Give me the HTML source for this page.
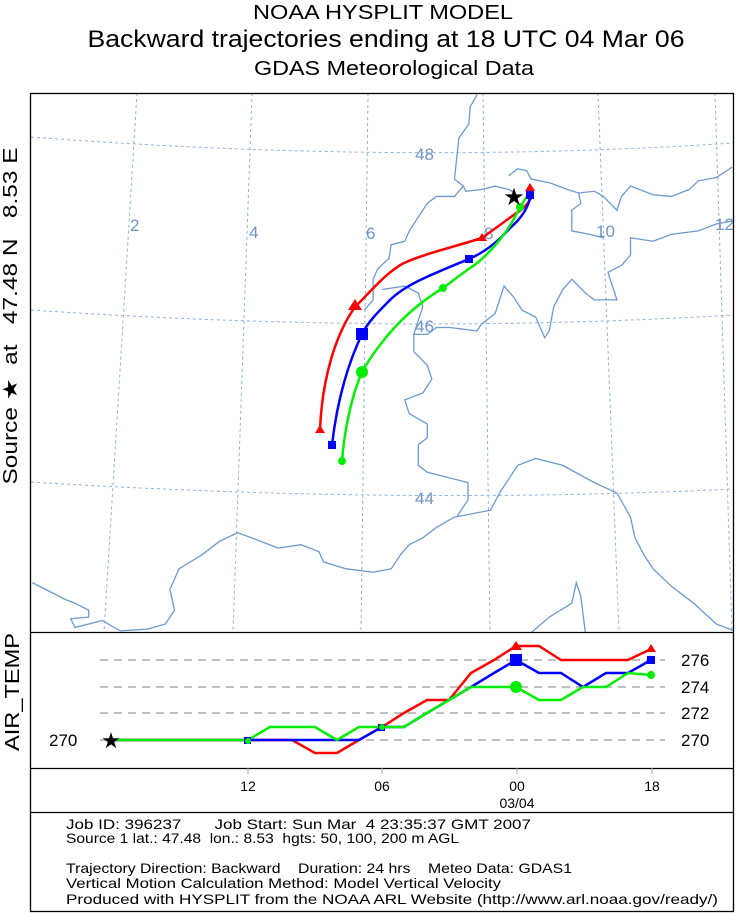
<!DOCTYPE html>
<html><head><meta charset="utf-8"><style>
html,body{margin:0;padding:0;background:#fff;}
svg{display:block;font-family:"Liberation Sans",sans-serif;}
text{white-space:pre;}
</style></head><body>
<svg width="736" height="913" viewBox="0 0 736 913" xmlns="http://www.w3.org/2000/svg" xml:space="preserve">
<rect width="736" height="913" fill="#fff"/>
<text x="383" y="19" font-size="20" text-anchor="middle" textLength="260" lengthAdjust="spacingAndGlyphs">NOAA HYSPLIT MODEL</text>
<text x="386" y="47" font-size="24" text-anchor="middle" textLength="597" lengthAdjust="spacingAndGlyphs">Backward trajectories ending at 18 UTC 04 Mar 06</text>
<text x="394" y="75" font-size="20" text-anchor="middle" textLength="280" lengthAdjust="spacingAndGlyphs">GDAS Meteorological Data</text>

<g fill="none" stroke="#8fb3d9" stroke-width="1" stroke-dasharray="3,3">
<path d="M137,93 L104,632"/><path d="M252,93 L233,632"/><path d="M368,93 L361,632"/>
<path d="M483,93 L490,632"/><path d="M598,93 L619,632"/><path d="M715,93 L732,632"/>
<path d="M31,137 Q400,165 733,143"/><path d="M31,310 Q400,335 733,315"/><path d="M31,482 Q400,505 733,489"/>
</g>
<g font-size="17" fill="#6d94c4">
<text x="130" y="231">2</text><text x="249" y="238">4</text><text x="366" y="239">6</text>
<text x="484" y="239">8</text><text x="596" y="237">10</text><text x="715" y="230">12</text>
<text x="415" y="160">48</text><text x="415" y="332">46</text><text x="415" y="504">44</text>
</g>
<g transform="translate(30,93) scale(0.4515,0.3448)" fill="none" stroke="#6d9ad0" stroke-width="1.3">
<polyline vector-effect="non-scaling-stroke" points="990,5 975,40 972,90 950,130 940,250 960,270 965,285 1000,280 1030,270 1060,280 1075,290"/>
<polyline vector-effect="non-scaling-stroke" points="1060,240 1080,220 1100,225 1110,250 1150,260 1190,280 1215,290 1250,285 1270,300 1300,340 1310,300 1330,270 1380,295 1420,300 1460,280 1480,255 1520,245 1555,215"/>
<polyline vector-effect="non-scaling-stroke" points="960,270 940,300 900,300 880,320 870,340 840,400 830,430 800,440 795,480 770,510 760,540 760,600 740,630"/>
<polyline vector-effect="non-scaling-stroke" points="780,570 830,560 860,580 870,620 850,700 880,700 900,680 930,680 990,690 1000,670 1030,640 1050,560 1070,590 1090,630 1120,650 1140,710 1150,690 1160,620 1180,570 1200,540 1230,580 1250,600 1300,600 1290,560 1280,520 1310,500 1330,470 1330,420 1380,430 1420,410 1480,400 1520,380 1560,370"/>
<polyline vector-effect="non-scaling-stroke" points="1215,290 1220,320 1200,340 1200,400 1240,410 1270,420"/>
<polyline vector-effect="non-scaling-stroke" points="850,700 850,750 880,790 890,830 870,870 830,890 840,930 880,960 880,1000 860,1020 860,1080 880,1100 940,1120 970,1130 970,1180 945,1230"/>
<polyline vector-effect="non-scaling-stroke" points="5,1420 80,1470 100,1480 130,1500 130,1520 90,1525 100,1550 160,1530 200,1560 260,1555 300,1540 320,1500 310,1440 330,1380 380,1340 420,1300 460,1275 500,1295 550,1320 600,1310 640,1330 650,1360 700,1380 760,1390 800,1380 820,1340 840,1310 870,1290 900,1260 940,1230 1020,1210 1040,1160 1080,1080 1120,1060 1180,1080 1250,1130 1300,1160 1330,1230 1340,1290 1360,1340 1380,1380 1420,1430 1470,1480 1520,1540 1560,1560"/>
<polyline vector-effect="non-scaling-stroke" points="1110,1565 1150,1520 1200,1480 1210,1420 1220,1460 1230,1565"/>
</g>
<g fill="none" stroke-width="2.5">
<path stroke="#ff0000" d="M530,187 C536,193 530,205 515,214 L482,238 C450,248 420,255 402,264 C385,274 372,290 355,307 C335,335 322,380 320,430"/>
<path stroke="#0000ff" d="M530,195 C530,205 522,218 510,228 C498,242 485,252 469,259 C430,275 405,285 390,300 C378,312 368,322 362,334 C345,370 336,410 332,445"/>
<path stroke="#00ee00" d="M528,195 C524,200 522,205 520,207 C505,240 480,262 470,268 C460,275 450,283 443,288 C415,305 395,325 380,345 C372,355 366,365 362,372 C350,400 344,435 342,461"/>
</g>
<g fill="#ff0000"><path d="M530,183 l5,8 h-10z"/><path d="M482,233 l5,8 h-10z"/><path d="M355,299 l7,11 h-14z"/><path d="M320,425 l5,8 h-10z"/></g>
<g fill="#0000ff"><rect x="526" y="191" width="8" height="8"/><rect x="465" y="255" width="8" height="8"/><rect x="356" y="328" width="12" height="12"/><rect x="328" y="441" width="8" height="8"/></g>
<g fill="#00ee00"><circle cx="520" cy="207" r="4"/><circle cx="443" cy="288" r="4"/><circle cx="362" cy="372" r="6"/><circle cx="342" cy="461" r="4"/></g>
<text x="514" y="205" font-size="24" text-anchor="middle">★</text>

<g fill="none" stroke="#000" stroke-width="1.3">
<rect x="30.5" y="93.5" width="703" height="818"/>
<line x1="30" y1="632.5" x2="734" y2="632.5"/>
<line x1="30" y1="768.5" x2="734" y2="768.5"/>
<line x1="30" y1="812.5" x2="734" y2="812.5"/>
</g>
<g stroke="#aaa" stroke-width="1.5" stroke-dasharray="8,6">
<line x1="100" y1="660" x2="665" y2="660"/><line x1="100" y1="687" x2="665" y2="687"/>
<line x1="100" y1="713" x2="665" y2="713"/><line x1="100" y1="740" x2="665" y2="740"/>
</g>
<g font-size="17"><text x="681" y="666">276</text><text x="681" y="693">274</text><text x="681" y="719">272</text><text x="681" y="746">270</text><text x="49" y="746">270</text></g>
<g fill="none" stroke-width="2.5">
<polyline stroke="#ff0000" points="113,740 292,740 315,753 337,753 359,740 382,727 404,713 427,700 449,700 471,673 494,660 516,646 539,646 561,660 628,660 651,649"/>
<polyline stroke="#0000ff" points="113,740 359,740 382,727 404,727 427,713 449,700 471,687 494,673 516,660 539,673 561,673 583,687 606,673 628,673 651,660"/>
<polyline stroke="#00ee00" points="113,740 248,740 270,727 315,727 337,740 359,727 404,727 427,713 449,700 471,687 516,687 539,700 561,700 583,687 606,687 628,673 651,675"/>
</g>
<path fill="#ff0000" d="M516,641 l6,9 h-12z M651,644 l5,8 h-10z"/>
<g fill="#0000ff"><rect x="510" y="654" width="12" height="12"/><rect x="647" y="656" width="8" height="8"/><rect x="244" y="737" width="7" height="7"/><rect x="378" y="724" width="7" height="7"/></g>
<g fill="#00ee00"><circle cx="516" cy="687" r="6"/><circle cx="651" cy="675" r="4"/><circle cx="248" cy="741" r="3"/><circle cx="382" cy="727" r="3"/></g>
<text x="111" y="748" font-size="22" text-anchor="middle">★</text>
<g stroke="#aaa"><line x1="248" y1="768" x2="248" y2="774"/><line x1="382" y1="768" x2="382" y2="774"/><line x1="517" y1="768" x2="517" y2="774"/><line x1="652" y1="768" x2="652" y2="774"/></g>
<g font-size="14" text-anchor="middle"><text x="248" y="791">12</text><text x="382" y="791">06</text><text x="517" y="791">00</text><text x="652" y="791">18</text><text x="517" y="808">03/04</text></g>
<text transform="translate(17,316) rotate(-90)" font-size="20" text-anchor="middle" textLength="337" lengthAdjust="spacingAndGlyphs">Source ★  at   47.48 N   8.53 E</text>
<text transform="translate(19,692) rotate(-90)" font-size="20" text-anchor="middle" textLength="118" lengthAdjust="spacingAndGlyphs">AIR_TEMP</text>
<g font-size="14">
<text x="66" y="829" textLength="465" lengthAdjust="spacingAndGlyphs">Job ID: 396237       Job Start: Sun Mar  4 23:35:37 GMT 2007</text>
<text x="66" y="843" textLength="393" lengthAdjust="spacingAndGlyphs">Source 1 lat.: 47.48  lon.: 8.53  hgts: 50, 100, 200 m AGL</text>
<text x="66" y="873" textLength="506" lengthAdjust="spacingAndGlyphs">Trajectory Direction: Backward    Duration: 24 hrs    Meteo Data: GDAS1</text>
<text x="66" y="888" textLength="435" lengthAdjust="spacingAndGlyphs">Vertical Motion Calculation Method: Model Vertical Velocity</text>
<text x="66" y="904" textLength="652" lengthAdjust="spacingAndGlyphs">Produced with HYSPLIT from the NOAA ARL Website (http://www.arl.noaa.gov/ready/)</text>
</g>
</svg>
</body></html>
